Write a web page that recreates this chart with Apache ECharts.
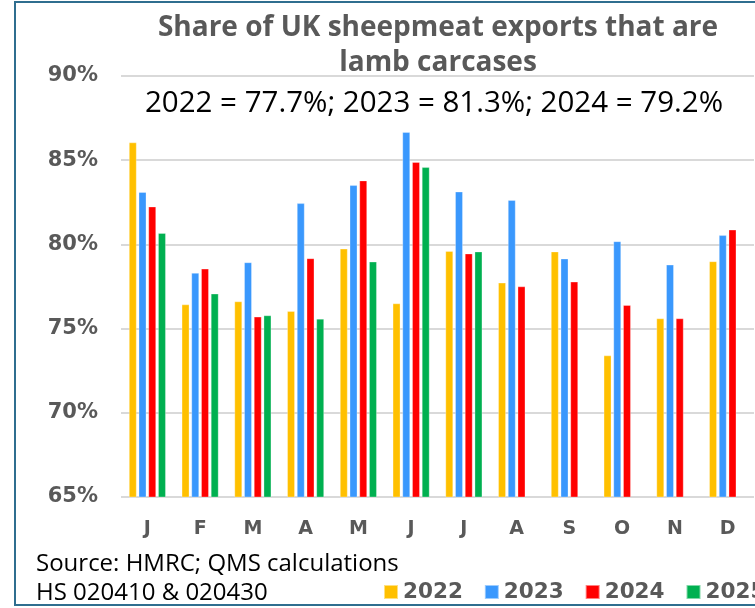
<!DOCTYPE html>
<html>
<head>
<meta charset="utf-8">
<script src="https://cdn.jsdelivr.net/npm/echarts@6/dist/echarts.min.js"></script>
<style>
html,body{margin:0;padding:0;overflow:hidden;background:#fff;}
#chart{width:800px;height:608px;}
</style>
</head>
<body>
<div id="chart"></div>
<script>
const months = ['J','F','M','A','M','J','J','A','S','O','N','D'];
const seriesNames = ['2022','2023','2024','2025'];
const v2022 = [86.05, 76.43, 76.61, 76.03, 79.74, 76.49, 79.6, 77.72, 79.57, 73.4, 75.6, 78.99];
const v2023 = [83.1, 78.3, 78.93, 82.44, 83.51, 86.66, 83.13, 82.63, 79.15, 80.18, 78.79, 80.54];
const v2024 = [82.24, 78.55, 75.7, 79.17, 83.79, 84.88, 79.45, 77.5, 77.78, 76.39, 75.6, 80.87];
const v2025 = [80.67, 77.07, 75.78, 75.58, 78.97, 84.58, 79.57, null, null, null, null, null];
const yTicks = {min: 65, max: 90, interval: 5};
const titleText = 'Share of UK sheepmeat exports that are\nlamb carcases';
const subtitleText = '2022 = 77.7%; 2023 = 81.3%; 2024 = 79.2%';
const sourceLines = ['Source: HMRC; QMS calculations', 'HS 020410 & 020430'];
const colors = ['#FFC000', '#3A98FD', '#FF0000', '#00B050'];

const chart = echarts.init(document.getElementById('chart'), null, {renderer: 'canvas'});
const dataSets = [v2022, v2023, v2024, v2025];
const grey = '#595959';

const option = {
  animation: false,
  color: colors,
  title: [
    {
      text: titleText,
      left: 433, top: 6, textAlign: 'center',
      textStyle: {fontFamily: 'Open Sans', fontWeight: 'bold', fontSize: 28, color: grey, lineHeight: 35}
    },
    {
      text: subtitleText,
      left: 429, top: 84, textAlign: 'center',
      textStyle: {fontFamily: 'Open Sans', fontWeight: 'normal', fontSize: 29.5, color: '#000'}
    }
  ],
  legend: {
    data: seriesNames,
    left: 383, top: 581, padding: 0,
    icon: 'rect', itemWidth: 14, itemHeight: 14, itemGap: 21,
    textStyle: {fontFamily: 'DejaVu Sans', fontWeight: 'bold', fontSize: 21.5, color: grey}
  },
  grid: {left: 121, top: 76, width: 633, height: 421, containLabel: false},
  xAxis: {
    type: 'category', data: months,
    axisLine: {show: false}, axisTick: {show: false},
    axisLabel: {fontFamily: 'DejaVu Sans', fontWeight: 'bold', fontSize: 19, color: grey, margin: 23}
  },
  yAxis: {
    type: 'value', min: yTicks.min, max: yTicks.max, interval: yTicks.interval,
    axisLine: {show: false}, axisTick: {show: false},
    axisLabel: {formatter: '{value}%', fontFamily: 'DejaVu Sans', fontWeight: 'bold', fontSize: 21, color: grey, margin: 23},
    splitLine: {lineStyle: {color: '#D9D9D9', width: 2}}
  },
  series: seriesNames.map((n, i) => ({
    name: n, type: 'bar', data: dataSets[i],
    barWidth: 7.6, barGap: '28%',
    itemStyle: {color: colors[i], borderColor: 'rgba(255,255,255,0.5)', borderWidth: 0.6}
  })),
  graphic: [
    {type: 'rect', shape: {x: 15, y: 2, width: 820, height: 603}, style: {fill: 'none', stroke: '#2F6E8F', lineWidth: 2}, silent: true},
    {type: 'text', left: 36, top: 552, style: {text: sourceLines[0], fontFamily: 'Open Sans', fontSize: 24, fill: '#000'}},
    {type: 'text', left: 36, top: 581, style: {text: sourceLines[1], fontFamily: 'Open Sans', fontSize: 24, fill: '#000'}}
  ]
};
chart.setOption(option);
</script>
</body>
</html>
